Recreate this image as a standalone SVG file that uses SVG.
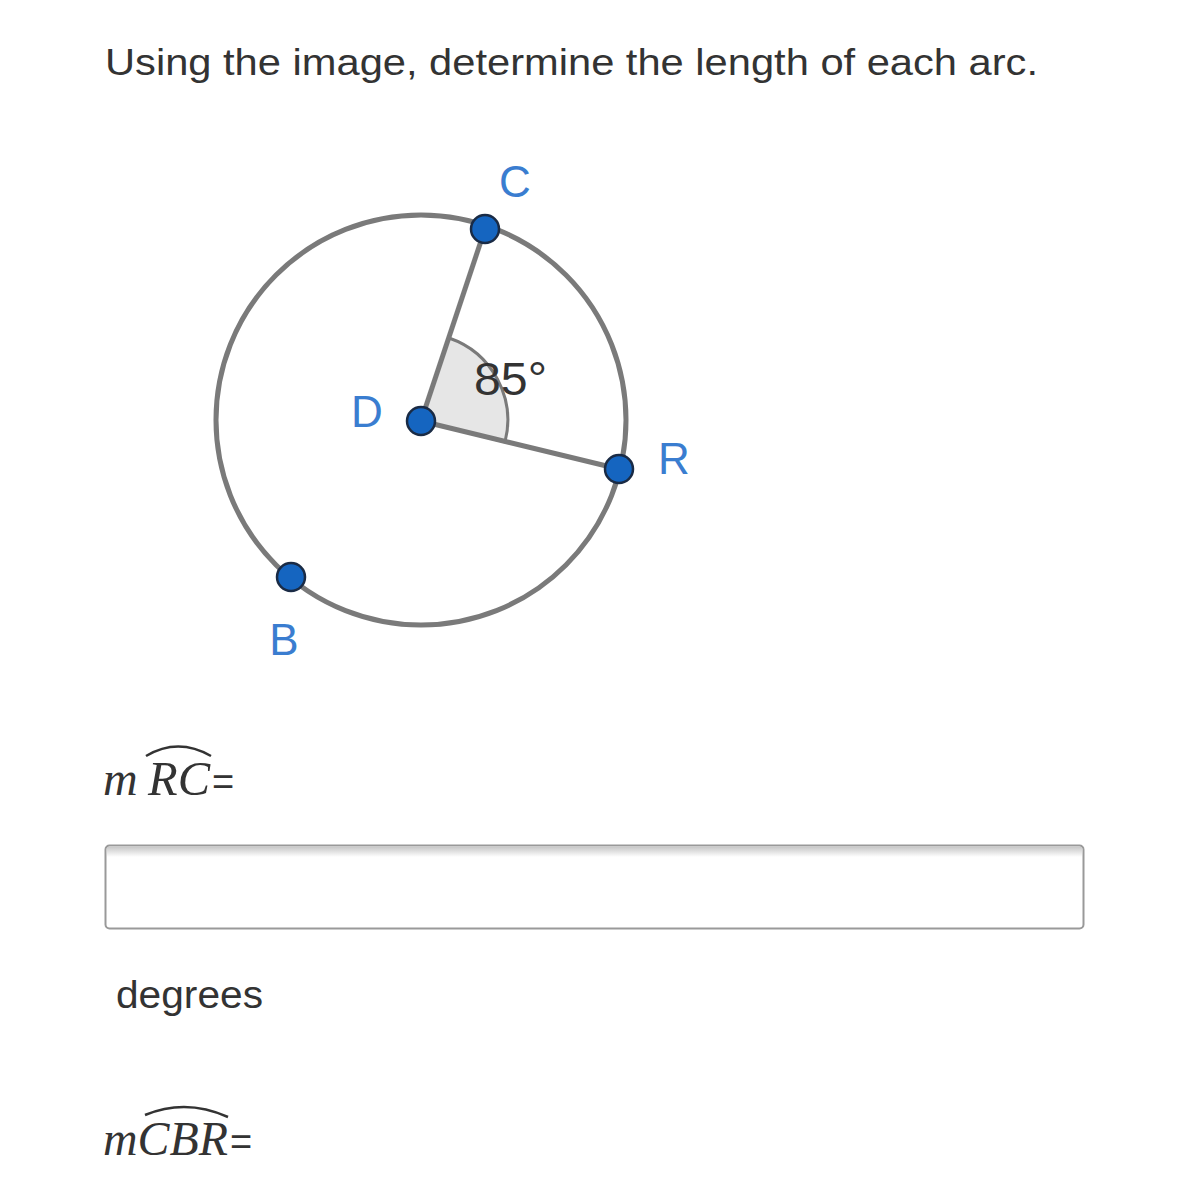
<svg xmlns="http://www.w3.org/2000/svg" width="1199" height="1200" viewBox="0 0 1199 1200">
<defs>
<style>
.title{font-family:"Liberation Sans",Arial,sans-serif;font-size:37px;fill:#333}
.lbl{font-family:"Liberation Sans",Arial,sans-serif;font-size:44px;fill:#3a7dd0}
.math{font-family:"Liberation Serif","Times New Roman",serif;font-style:italic;font-size:48px;fill:#333}
.eq{font-family:"Liberation Sans",Arial,sans-serif;font-size:38px;fill:#333}
.pt{fill:#1565c0;stroke:#1a2b45;stroke-width:2.5}
.seg{stroke:#7a7a7a;stroke-width:5;fill:none}
.hat{stroke:#333;stroke-width:2.5;fill:none}
</style>
<linearGradient id="sh" x1="0" y1="0" x2="0" y2="1">
<stop offset="0" stop-color="#c8c8c8"/>
<stop offset="1" stop-color="#ffffff"/>
</linearGradient>
</defs>
<rect width="1199" height="1200" fill="#fff"/>
<text class="title" x="105" y="75" textLength="933" lengthAdjust="spacingAndGlyphs">Using the image, determine the length of each arc.</text>

<g id="sector">
<path d="M421,421 L449,338 A87,87 0 0 1 505,442 Z" fill="#e6e6e6" stroke="#7a7a7a" stroke-width="3"/>
<text x="474" y="395" font-family="Liberation Sans,Arial,sans-serif" font-size="46" fill="#333" textLength="73" lengthAdjust="spacingAndGlyphs">85°</text>
</g>
<g id="circle">
<circle cx="421" cy="420" r="205" class="seg"/>
</g>
<g id="connectors">
<line x1="421" y1="421" x2="485" y2="229" class="seg"/>
<line x1="421" y1="421" x2="619" y2="469" class="seg"/>
</g>
<g id="node-C"><circle cx="485" cy="229" r="14" class="pt"/><text class="lbl" x="515" y="197" text-anchor="middle">C</text></g>
<g id="node-D"><circle cx="421" cy="421" r="14" class="pt"/><text class="lbl" x="367" y="427" text-anchor="middle">D</text></g>
<g id="node-R"><circle cx="619" cy="469" r="14" class="pt"/><text class="lbl" x="674" y="474" text-anchor="middle">R</text></g>
<g id="node-B"><circle cx="291" cy="577" r="14" class="pt"/><text class="lbl" x="284" y="655" text-anchor="middle">B</text></g>

<g id="q1">
<text class="math" x="103" y="795">m</text>
<text class="math" x="148" y="795" textLength="62" lengthAdjust="spacingAndGlyphs">RC</text>
<path class="hat" d="M146,756 Q178,737 211,756"/>
<text class="eq" x="212" y="795">=</text>
</g>
<g id="answer-box">
<rect x="105.5" y="845.5" width="978" height="83" rx="4" fill="#fff" stroke="#999" stroke-width="2"/>
<rect x="107" y="847" width="975" height="10" fill="url(#sh)"/>
</g>
<text class="eq" x="116" y="1008" font-size="40" textLength="147" lengthAdjust="spacingAndGlyphs">degrees</text>
<g id="q2">
<text class="math" x="103" y="1155" textLength="125" lengthAdjust="spacingAndGlyphs">mCBR</text>
<path class="hat" d="M145,1115 Q186,1098 228,1117"/>
<text class="eq" x="230" y="1155">=</text>
</g>
</svg>
